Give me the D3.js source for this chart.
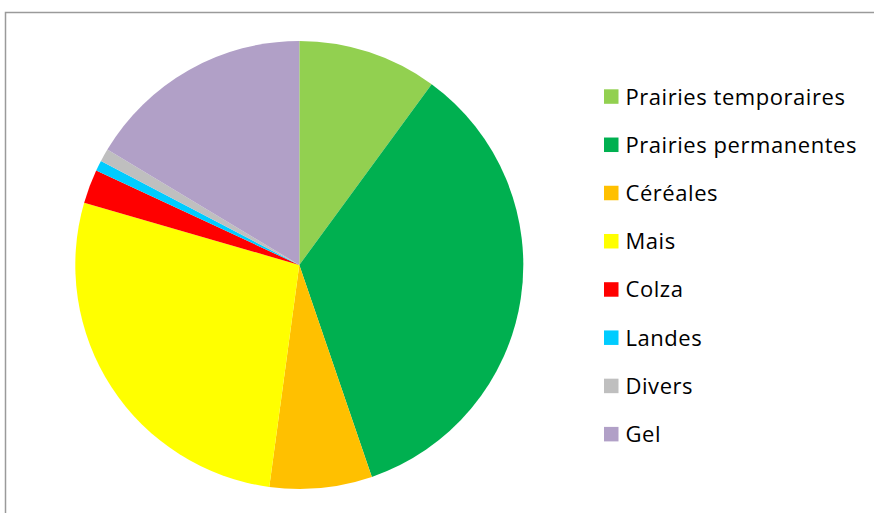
<!DOCTYPE html>
<html>
<head>
<meta charset="utf-8">
<script src="https://cdn.jsdelivr.net/npm/d3@7"></script>
<style>
  html, body { margin: 0; padding: 0; background: #fff; }
  svg { display: block; }
</style>
</head>
<body>
<svg id="chart" width="874" height="513"></svg>
<script>
// Surface shares by land use (percent)
const categories = ["Prairies temporaires", "Prairies permanentes", "Céréales", "Mais", "Colza", "Landes", "Divers", "Gel"];
const shares = [10.06, 34.69, 7.39, 27.35, 2.44, 0.76, 0.93, 16.38];
const colors = ["#92D050", "#00B050", "#FFC000", "#FFFF00", "#FF0000", "#00CCFF", "#BFBFBF", "#B1A0C7"];

const data = categories.map((c, i) => ({ name: c, value: shares[i] }));

const svg = d3.select("#chart");

// Chart area frame
svg.append("rect")
  .attr("x", 5.5).attr("y", 12.5)
  .attr("width", 900).attr("height", 600)
  .attr("fill", "#fff")
  .attr("stroke", "#9a9a9a")
  .attr("stroke-width", 1.5);

const cx = 299.3, cy = 265, radius = 224;

const color = d3.scaleOrdinal().domain(categories).range(colors);

const pie = d3.pie().value(d => d.value).sort(null);
const arc = d3.arc().innerRadius(0).outerRadius(radius);

const g = svg.append("g").attr("transform", `translate(${cx},${cy})`);
g.selectAll("path")
  .data(pie(data))
  .join("path")
  .attr("d", arc)
  .attr("fill", d => color(d.data.name));

// Legend
const legendY = d3.scalePoint().domain(categories).range([96.8, 434.4]);
const legend = svg.append("g");
const rows = legend.selectAll("g")
  .data(categories)
  .join("g")
  .attr("transform", d => `translate(604,${legendY(d)})`);
rows.append("rect")
  .attr("x", 0).attr("y", -7.5)
  .attr("width", 14.5).attr("height", 14.5)
  .attr("fill", d => color(d));
rows.append("text")
  .attr("x", 21.5).attr("y", 0)
  .attr("dy", "0.35em")
  .attr("font-family", "'Open Sans', 'Noto Sans', sans-serif")
  .attr("font-size", 22)
  .attr("letter-spacing", "0.55px")
  .attr("fill", "#000")
  .text(d => d);
</script>
</body>
</html>
